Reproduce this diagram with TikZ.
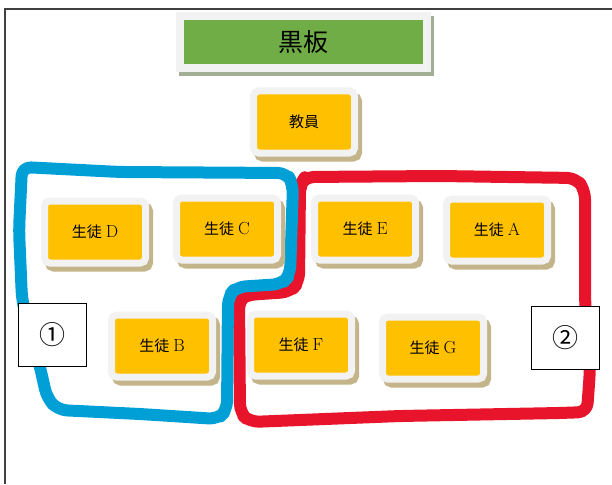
\documentclass[tikz,border=0pt]{standalone}
\usepackage{fontspec}
\newfontfamily\jp{Noto Sans CJK JP}
\newcommand{\seatlabel}[1]{{\jp 生徒}\hspace{4pt}{\fontsize{17.5}{17.5}\selectfont #1}}
\definecolor{seatorange}{HTML}{FFC000}
\definecolor{seatrim}{HTML}{F2F2F2}
\definecolor{seatshadow}{HTML}{C4B48A}
\definecolor{boardgreen}{HTML}{70AD47}
\definecolor{boardshadow}{HTML}{A2AE96}
\definecolor{loopblue}{HTML}{00A0D6}
\definecolor{loopred}{HTML}{E8142B}
\tikzset{
  seat/.style={draw=seatrim, line width=7pt, fill=seatorange, rounded corners=5pt,
    minimum width=101pt, minimum height=62pt, inner sep=0pt, font=\fontsize{15}{15}\selectfont,
    preaction={draw=seatshadow, fill=seatshadow, line width=7pt, transform canvas={shift={(4pt,-5pt)}}}},
  board/.style={draw=seatrim, line width=8pt, fill=boardgreen,
    minimum width=247pt, minimum height=52pt, inner sep=0pt, font=\fontsize{25}{25}\selectfont\jp,
    preaction={draw=boardshadow, fill=boardshadow, line width=8pt, transform canvas={shift={(2.5pt,-4.5pt)}}}},
  grouplabel/.style={draw=black, line width=0.8pt, fill=white, minimum width=68pt, minimum height=63pt,
    inner sep=0pt, font=\fontsize{26}{26}\selectfont\jp},
  loop/.style={line width=12pt, rounded corners=9pt, line cap=round, line join=round},
}
\begin{document}
\begin{tikzpicture}[x=1pt,y=-1pt]
\useasboundingbox (0,0) rectangle (612,484);
% frame
\draw[line width=2pt, black!75] (5,484) -- (5,9) -- (612,9);
% red group loop
\draw[loop, loopred] (305,177) -- (440,176) -- (576,178) -- (585,190) -- (585,300) -- (590,370)
  -- (587,412) -- (560,413) -- (400,416) -- (250,422) -- (240,413) -- (239,300) -- (246,295)
  -- (290,292) -- (299,282) -- (300,185) -- cycle;
% blue group loop
\draw[loop, loopblue] (22,167) -- (120,172) -- (287,173) -- (293,185) -- (290,275) -- (282,284)
  -- (236,287) -- (228,297) -- (227,410) -- (218,419) -- (140,414) -- (58,410) -- (47,398)
  -- (40,367) -- (22,300) -- (19,230) -- cycle;
% blackboard and teacher
\node[board] (board) at (303.5,42) {黒板};
\node[seat] (teacher) at (304,122) {\jp 教員};
% students
\node[seat] (sD) at (95,232) {\seatlabel{D}};
\node[seat] (sC) at (227,229) {\seatlabel{C}};
\node[seat] (sB) at (162,346) {\seatlabel{B}};
\node[seat] (sE) at (365,229) {\seatlabel{E}};
\node[seat] (sA) at (497,230) {\seatlabel{A}};
\node[seat] (sF) at (301,345) {\seatlabel{F}};
\node[seat] (sG) at (433,348) {\seatlabel{G}};
% group labels
\node[grouplabel] (g1) at (52,335) {①};
\node[grouplabel] (g2) at (565,338) {②};
\end{tikzpicture}
\end{document}
